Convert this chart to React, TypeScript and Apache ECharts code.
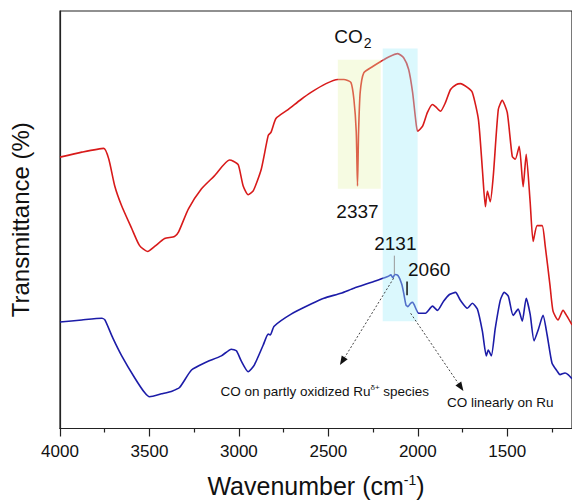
import React, { useEffect, useRef } from 'react';
import * as echarts from 'echarts';

// FTIR spectra: [wavenumber (cm-1), transmittance (a.u.)]
const redSpectrum: number[][] = [
  [4000, 65.0], [3878, 66.2], [3755, 67.1], [3727, 64.5], [3694, 58.1], [3655, 53.3],
  [3599, 47.9], [3555, 43.8], [3510, 42.4], [3471, 43.6], [3415, 45.5], [3360, 46.0],
  [3337, 47.1], [3282, 52.6], [3209, 57.4], [3137, 60.5], [3053, 64.3], [3031, 64.0],
  [3003, 63.1], [2976, 58.1], [2948, 56.0], [2920, 56.9], [2875, 62.1], [2836, 70.2],
  [2820, 71.0], [2792, 74.3], [2725, 76.4], [2653, 78.8], [2597, 80.5], [2513, 82.6],
  [2447, 83.6], [2413, 83.6], [2374, 82.9], [2357, 78.8], [2344, 71.0], [2337, 58.1],
  [2331, 71.0], [2322, 80.5], [2302, 85.2], [2252, 86.7], [2207, 87.9], [2163, 89.0],
  [2112, 89.8], [2079, 88.8], [2051, 86.0], [2029, 80.5], [2012, 74.0], [2001, 71.2],
  [1973, 72.4], [1946, 75.7], [1918, 77.6], [1901, 77.1], [1873, 76.0], [1845, 78.1],
  [1817, 81.2], [1784, 82.4], [1762, 82.6], [1723, 81.7], [1695, 80.5], [1661, 74.0],
  [1639, 62.1], [1622, 53.1], [1611, 56.9], [1595, 54.3], [1578, 60.5], [1550, 76.4],
  [1528, 78.6], [1500, 75.7], [1472, 65.2], [1455, 64.5], [1433, 67.6], [1411, 57.9],
  [1394, 65.7], [1372, 54.3], [1355, 44.8], [1333, 48.6], [1305, 48.6], [1288, 43.8],
  [1261, 34.3], [1244, 28.1], [1216, 26.0], [1188, 28.3], [1166, 26.9], [1138, 24.8],
];

const blueSpectrum: number[][] = [
  [4000, 25.5], [3878, 26.0], [3766, 26.4], [3749, 26.0], [3705, 21.7], [3655, 17.4],
  [3582, 12.1], [3527, 8.6], [3499, 7.6], [3432, 8.3], [3371, 9.0], [3332, 9.8],
  [3265, 14.0], [3193, 15.7], [3098, 17.4], [3042, 19.0], [3014, 18.6], [2987, 16.2],
  [2948, 13.6], [2914, 15.2], [2864, 20.0], [2836, 22.6], [2825, 22.4], [2803, 24.5],
  [2708, 27.4], [2597, 29.8], [2525, 31.2], [2430, 32.4], [2357, 33.6], [2246, 35.2],
  [2168, 36.4], [2150, 36.8], [2140, 36.1], [2128, 36.9], [2110, 36.6], [2090, 34.6],
  [2079, 32.5], [2066, 29.6], [2055, 29.2], [2040, 30.0], [2029, 30.2], [1995, 27.6],
  [1957, 27.6], [1918, 29.3], [1890, 28.3], [1856, 30.5], [1823, 32.1], [1789, 32.6],
  [1762, 30.7], [1723, 28.8], [1695, 30.0], [1667, 28.6], [1639, 23.3], [1617, 17.4],
  [1606, 18.8], [1589, 17.4], [1567, 24.0], [1539, 30.7], [1517, 32.6], [1494, 31.7],
  [1467, 27.1], [1439, 28.6], [1416, 25.7], [1394, 31.2], [1372, 27.4], [1350, 21.0],
  [1327, 23.6], [1300, 27.1], [1277, 22.4], [1250, 15.7], [1222, 13.8], [1205, 12.9],
  [1177, 13.3], [1160, 12.9], [1138, 11.9],
];

// Axis range and tick positions (cm-1)
const xRange = [1138, 4000];
const majorTicks = [4000, 3500, 3000, 2500, 2000, 1500];
const minorTicks = [3750, 3250, 2750, 2250, 1750, 1250];

// Highlighted bands: [from, to] wavenumber, [bottom, top] transmittance
const co2Band = { x: [2447, 2207], y: [57.4, 88.3] };
const coBand = { x: [2196, 2001], y: [25.7, 91.0] };

// Peak positions that are labelled
const peakCO2 = 2337;
const peakRuOx = 2131;
const peakRuLin = 2060;

const FONT = '"Liberation Sans", Arial, Helvetica, sans-serif';
const INK = '#111';
const AXIS = '#222';

export default function App() {
  const ref = useRef<HTMLDivElement>(null);

  useEffect(() => {
    const chart = echarts.init(ref.current!, null, { renderer: 'svg' });
    chart.setOption({
      animation: false,
      backgroundColor: '#ffffff',
      grid: {
        left: 58, top: 11, right: 0, bottom: 72,
        show: true, borderColor: AXIS, borderWidth: 1.2,
      },
      xAxis: [
        {
          type: 'value', inverse: true, min: xRange[0], max: xRange[1],
          axisLine: { lineStyle: { color: AXIS, width: 1.2 } },
          axisTick: { length: 8, customValues: majorTicks, lineStyle: { color: AXIS, width: 1.2 } },
          splitLine: { show: false },
          axisLabel: {
            color: INK, fontSize: 17, fontFamily: FONT, margin: 14, customValues: majorTicks,
            formatter: (v: number) => String(v),
          },
          name: 'Wavenumber (cm{sup|-1})',
          nameLocation: 'middle', nameGap: 44,
          nameTextStyle: {
            fontSize: 25, fontFamily: FONT, color: INK,
            rich: { sup: { fontSize: 14, fontFamily: FONT, color: INK, verticalAlign: 'top', lineHeight: 26 } },
          },
        },
        {
          type: 'value', inverse: true, min: xRange[0], max: xRange[1], position: 'bottom',
          axisLine: { show: false },
          axisTick: { show: true, length: 4, customValues: minorTicks, lineStyle: { color: AXIS, width: 1.2 } },
          axisLabel: { show: false },
          splitLine: { show: false },
        },
      ],
      yAxis: {
        type: 'value', min: 0, max: 100,
        axisLine: { show: true, lineStyle: { color: AXIS, width: 1.2 } },
        axisTick: { show: false }, axisLabel: { show: false }, splitLine: { show: false },
        name: 'Transmittance (%)', nameLocation: 'middle', nameGap: 28,
        nameTextStyle: { fontSize: 24, fontFamily: FONT, color: INK },
      },
      series: [
        {
          type: 'line', data: redSpectrum, symbol: 'none', smooth: 0.2,
          lineStyle: { color: '#d81a1a', width: 1.6 }, itemStyle: { color: '#d81a1a' }, z: 2,
        },
        {
          type: 'line', data: blueSpectrum, symbol: 'none', smooth: 0.2,
          lineStyle: { color: '#1c1ca8', width: 1.6 }, itemStyle: { color: '#1c1ca8' }, z: 2,
        },
      ],
    });

    const p = (w: number, v: number) =>
      chart.convertToPixel({ xAxisIndex: 0, yAxisIndex: 0 }, [w, v]) as number[];

    const band = (b: { x: number[]; y: number[] }, fill: string) => {
      const a = p(b.x[0], b.y[1]);
      const c = p(b.x[1], b.y[0]);
      return {
        type: 'rect', z: 10, silent: true,
        shape: { x: Math.min(a[0], c[0]), y: a[1], width: Math.abs(c[0] - a[0]), height: c[1] - a[1] },
        style: { fill },
      };
    };

    const text = (w: number, v: number, t: string, size: number, align = 'center', dx = 0, dy = 0, rich?: any) => {
      const [x, y] = p(w, v);
      return {
        type: 'text', z: 20, x: x + dx, y: y + dy,
        style: { text: t, fontSize: size, fontFamily: FONT, fill: INK, align, verticalAlign: 'middle', rich },
      };
    };

    const vline = (w: number, v1: number, v2: number, stroke: string, lineWidth: number) => {
      const a = p(w, v1);
      const b = p(w, v2);
      return { type: 'line', z: 20, shape: { x1: a[0], y1: a[1], x2: b[0], y2: b[1] }, style: { stroke, lineWidth } };
    };

    const arrow = (from: number[], to: number[]) => {
      const [x1, y1] = p(from[0], from[1]);
      const [x2, y2] = p(to[0], to[1]);
      const len = Math.hypot(x2 - x1, y2 - y1);
      const ux = (x2 - x1) / len;
      const uy = (y2 - y1) / len;
      const hl = 9;
      const hw = 3.5;
      const bx = x2 - ux * hl;
      const by = y2 - uy * hl;
      return [
        { type: 'line', z: 20, shape: { x1, y1, x2: bx, y2: by }, style: { stroke: '#444', lineWidth: 1, lineDash: [2, 2] } },
        {
          type: 'polygon', z: 20,
          shape: { points: [[x2, y2], [bx - uy * hw, by + ux * hw], [bx + uy * hw, by - ux * hw]] },
          style: { fill: INK },
        },
      ];
    };

    chart.setOption({
      graphic: [
        band(co2Band, 'rgba(230,242,170,0.34)'),
        band(coBand, 'rgba(165,238,250,0.4)'),
        text(2307, 94.0, 'CO', 19, 'right'),
        text(2307, 94.0, '2', 14, 'left', 1, 7),
        text(peakCO2, 52.0, String(peakCO2), 19),
        text(peakRuOx, 44.3, String(peakRuOx), 19, 'center', 1),
        text(peakRuLin, 38.1, String(peakRuLin), 19, 'left', 1),
        vline(peakRuOx, 41.4, 36.9, '#999', 1),
        vline(peakRuLin, 35.2, 31.9, INK, 1.5),
        ...arrow([2135, 36.0], [2435, 15.2]),
        ...arrow([2040, 27.6], [1745, 9.0]),
        text(2520, 8.8, 'CO on partly oxidized Ru{sup|δ+} species', 13.5, 'center', 0, 0, {
          sup: { fontSize: 8, fontFamily: FONT, fill: INK, verticalAlign: 'top', lineHeight: 16 },
        }),
        text(1539, 6.2, 'CO linearly on Ru', 13.5),
      ],
    });

    return () => chart.dispose();
  }, []);

  return <div ref={ref} style={{ position: 'absolute', left: 0, top: 0, width: 572, height: 503 }} />;
}
